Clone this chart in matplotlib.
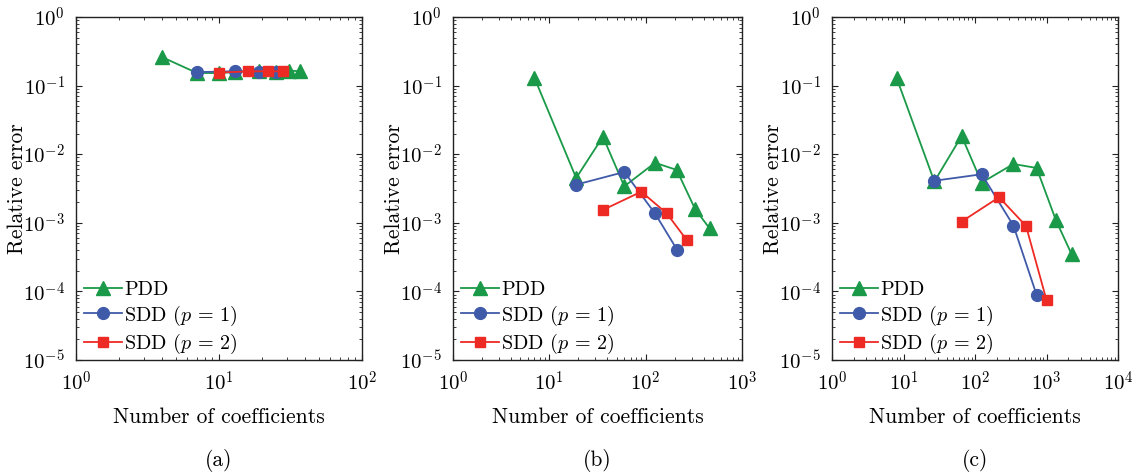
import numpy as np
import matplotlib
matplotlib.use('Agg')
import matplotlib.pyplot as plt
from matplotlib.ticker import LogLocator, NullFormatter

plt.rcParams['font.family'] = 'cmr10'
plt.rcParams['mathtext.fontset'] = 'cm'
plt.rcParams['axes.unicode_minus'] = False
plt.rcParams['font.size'] = 13

# panel (a)
pdd_a_n = [4, 7, 10, 13, 19, 25, 31, 37]
pdd_a_e = [0.26, 0.153, 0.152, 0.158, 0.166, 0.158, 0.165, 0.162]
sdd1_a_n = [7, 13, 19, 25]
sdd1_a_e = [0.157, 0.162, 0.159, 0.158]
sdd2_a_n = [10, 16, 22, 28]
sdd2_a_e = [0.155, 0.161, 0.162, 0.161]

# panel (b)
pdd_b_n = [7, 19, 36, 60, 125, 210, 325, 460]
pdd_b_e = [0.13, 0.0045, 0.018, 0.0034, 0.0075, 0.0059, 0.0016, 0.00083]
sdd1_b_n = [19, 60, 125, 213]
sdd1_b_e = [0.0036, 0.0055, 0.00137, 0.0004]
sdd2_b_n = [36, 90, 165, 267]
sdd2_b_e = [0.00154, 0.00284, 0.00138, 0.00056]

# panel (c)
pdd_c_n = [8, 27, 65, 124, 345, 727, 1350, 2240]
pdd_c_e = [0.13, 0.0040, 0.0184, 0.00385, 0.0072, 0.0063, 0.0011, 0.00035]
sdd1_c_n = [27, 124, 345, 727]
sdd1_c_e = [0.0041, 0.0051, 0.00091, 0.000089]
sdd2_c_n = [65, 217, 517, 1000]
sdd2_c_e = [0.00104, 0.00236, 0.0009, 0.000075]

green = '#1a9a48'
blue = '#3f5aa8'
red = '#ee2a24'

panels = [
    (pdd_a_n, pdd_a_e, sdd1_a_n, sdd1_a_e, sdd2_a_n, sdd2_a_e, 2, '(a)'),
    (pdd_b_n, pdd_b_e, sdd1_b_n, sdd1_b_e, sdd2_b_n, sdd2_b_e, 3, '(b)'),
    (pdd_c_n, pdd_c_e, sdd1_c_n, sdd1_c_e, sdd2_c_n, sdd2_c_e, 4, '(c)'),
]
lefts = [76, 453, 832]
rights = [362, 742, 1118]

fig = plt.figure(figsize=(11.41, 4.73), dpi=100)

for k, (pn, pe, s1n, s1e, s2n, s2e, xdec, lab) in enumerate(panels):
    l = lefts[k] / 1141.0
    wpx = rights[k] - lefts[k]
    ax = fig.add_axes([l, 1 - 360 / 473.0, wpx / 1141.0, (360 - 17) / 473.0])
    ax.plot(pn, pe, '-^', color=green, ms=10.5, lw=1.3, label='PDD')
    ax.plot(s1n, s1e, '-o', color=blue, ms=8.5, lw=1.3, label=r'SDD ($p$ = 1)')
    ax.plot(s2n, s2e, '-s', color=red, ms=6.5, lw=1.3, label=r'SDD ($p$ = 2)')
    ax.set_xscale('log')
    ax.set_yscale('log')
    ax.set_xlim(1, 10 ** xdec)
    ax.set_ylim(1e-5, 1)

    xt = [10.0 ** i for i in range(xdec + 1)]
    ax.set_xticks(xt)
    ax.set_xticklabels([r'$10^{%d}$' % i for i in range(xdec + 1)])
    ax.xaxis.set_minor_locator(LogLocator(base=10, subs=np.arange(2, 10), numticks=20))
    ax.xaxis.set_minor_formatter(NullFormatter())
    yt = [10.0 ** i for i in range(-5, 1)]
    ax.set_yticks(yt)
    ax.set_yticklabels([r'$10^{%d}$' % i for i in range(-5, 1)])
    ax.yaxis.set_minor_locator(LogLocator(base=10, subs=np.arange(2, 10), numticks=20))
    ax.yaxis.set_minor_formatter(NullFormatter())

    ax.tick_params(which='both', direction='in', top=True, right=True, color='#222222')
    ax.tick_params(which='major', length=4, pad=8, labelsize=15)
    ax.tick_params(which='minor', length=2)
    for s in ax.spines.values():
        s.set_color('#222222')
        s.set_linewidth(1.0)

    ax.set_xlabel('Number of coefficients', fontsize=15.5, labelpad=9)
    ax.set_ylabel('Relative error', fontsize=15.5)
    ax.yaxis.set_label_coords(-49.0 / wpx, 0.5)
    ax.legend(loc='lower left', frameon=False, fontsize=14.5, handlelength=1.9,
              handletextpad=0.1, labelspacing=0.22, borderaxespad=0.0,
              bbox_to_anchor=(0.0, -0.012))
    fig.text((lefts[k] + rights[k]) / 2 / 1141.0, 1 - 460 / 473.0, lab,
             ha='center', va='center', fontsize=15.5)

fig.savefig('out.png', dpi=100)
